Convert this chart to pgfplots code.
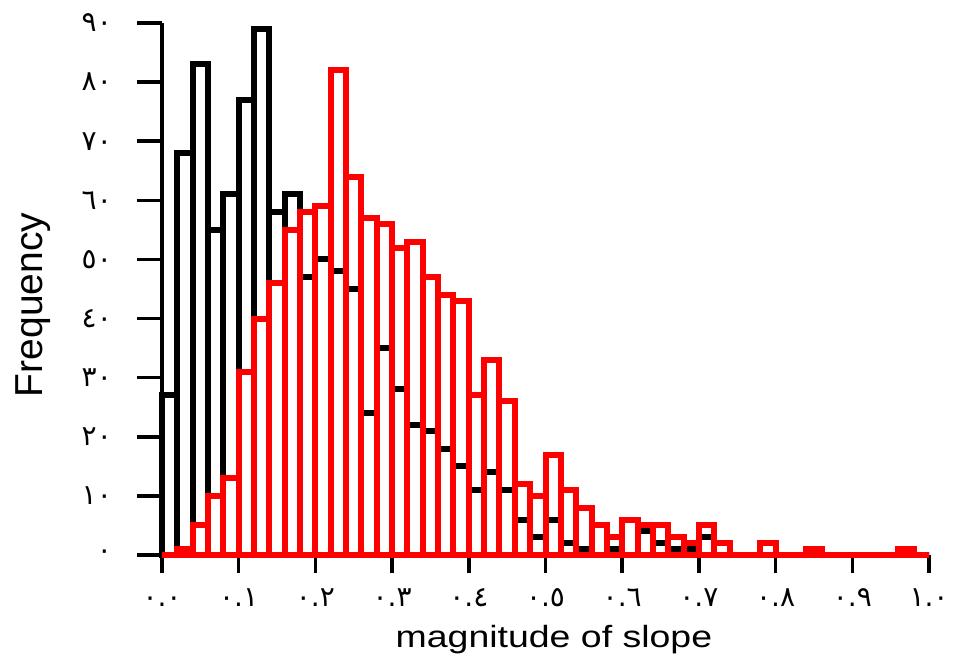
\documentclass[border=0pt]{standalone}
\usepackage{fontspec}
\setmainfont{Liberation Sans}
\newfontfamily\digitfont{DejaVu Sans}
\usepackage{pgfplots}
\pgfplotsset{compat=1.18}
\definecolor{histred}{RGB}{255,0,0}

\begin{document}
\begin{tikzpicture}
\path[use as bounding box] (-162bp,-103bp) rectangle (793bp,555bp);
\begin{axis}[
    scale only axis,
    width=767bp, height=532bp,
    xmin=0, xmax=1, ymin=0, ymax=90,
    axis lines*=left,
    axis line style={line width=4bp, black},
    clip=false,
    tick align=outside,
    major tick length=18bp,
    tick style={line width=3.5bp, black},
    xtick={0,0.1,0.2,0.3,0.4,0.5,0.6,0.7,0.8,0.9,1.0},
    xticklabels={٠.٠,٠.١,٠.٢,٠.٣,٠.٤,٠.٥,٠.٦,٠.٧,٠.٨,٠.٩,١.٠},
    xticklabel style={font=\digitfont\fontsize{28bp}{28bp}\selectfont, anchor=base, yshift=-33bp},
    ytick=\empty,
    extra y ticks={0,10,20,30,40,50,60,70,80,90},
    extra y tick labels={٠,١٠,٢٠,٣٠,٤٠,٥٠,٦٠,٧٠,٨٠,٩٠},
    extra y tick style={major tick length=25bp,
        yticklabel style={font=\digitfont\fontsize{28bp}{28bp}\selectfont, anchor=east, inner sep=0pt, xshift=-25bp}},
    xlabel={magnitude of slope},
    ylabel={Frequency},
    every axis x label/.style={at={(axis description cs:0.511,0)}, yshift=-92bp,
        anchor=base, xscale=1.22, font=\fontsize{30.7bp}{31bp}\selectfont},
    every axis y label/.style={at={(axis description cs:0,0.47)}, xshift=-119bp,
        rotate=90, anchor=base, font=\fontsize{39bp}{39bp}\selectfont},
]
% black histogram (bin width 0.02)
\addplot[ybar interval, draw=black, fill=none, line width=6bp] coordinates {
(0.00,27) (0.02,68) (0.04,83) (0.06,55) (0.08,61) (0.10,77) (0.12,89) (0.14,58) (0.16,61) (0.18,47)
(0.20,50) (0.22,48) (0.24,45) (0.26,24) (0.28,35) (0.30,28) (0.32,22) (0.34,21) (0.36,18) (0.38,15)
(0.40,11) (0.42,14) (0.44,11) (0.46,6) (0.48,3) (0.50,6) (0.52,2) (0.54,1) (0.56,0) (0.58,1)
(0.60,0) (0.62,4) (0.64,2) (0.66,1) (0.68,1) (0.70,3) (0.72,0) (0.74,0) (0.76,0) (0.78,0)
(0.80,0) (0.82,0) (0.84,0) (0.86,0) (0.88,0) (0.90,0) (0.92,0) (0.94,0) (0.96,0) (0.98,0)
(1.00,0)
};
% red histogram
\addplot[ybar interval, draw=histred, fill=none, line width=6bp] coordinates {
(0.00,0) (0.02,1) (0.04,5) (0.06,10) (0.08,13) (0.10,31) (0.12,40) (0.14,46) (0.16,55) (0.18,58)
(0.20,59) (0.22,82) (0.24,64) (0.26,57) (0.28,56) (0.30,52) (0.32,53) (0.34,47) (0.36,44) (0.38,43)
(0.40,27) (0.42,33) (0.44,26) (0.46,12) (0.48,10) (0.50,17) (0.52,11) (0.54,8) (0.56,5) (0.58,3)
(0.60,6) (0.62,5) (0.64,5) (0.66,3) (0.68,2) (0.70,5) (0.72,2) (0.74,0) (0.76,0) (0.78,2)
(0.80,0) (0.82,0) (0.84,1) (0.86,0) (0.88,0) (0.90,0) (0.92,0) (0.94,0) (0.96,1) (0.98,0)
(1.00,0)
};
\end{axis}
\end{tikzpicture}
\end{document}
